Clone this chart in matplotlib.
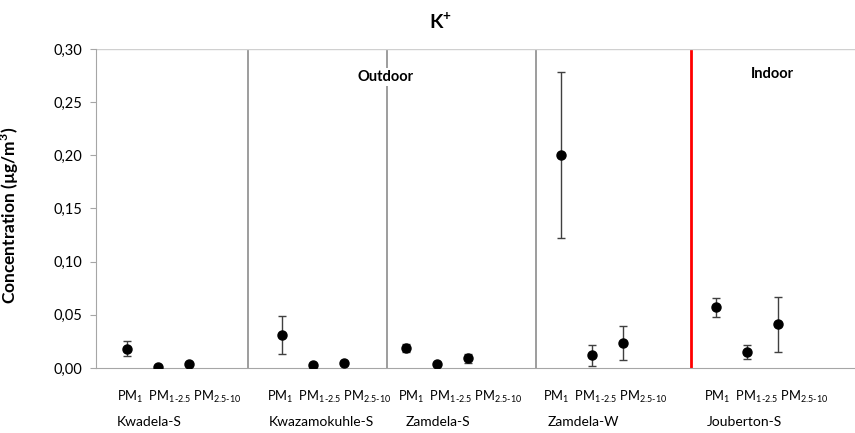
import matplotlib
matplotlib.use("Agg")
import matplotlib.pyplot as plt
import numpy as np

FONT = 'Lato'
plt.rcParams['font.family'] = [FONT, 'DejaVu Sans']
plt.rcParams['mathtext.fontset'] = 'custom'
plt.rcParams['mathtext.rm'] = FONT
plt.rcParams['mathtext.bf'] = FONT + ':bold'

sites = ['Kwadela-S', 'Kwazamokuhle-S', 'Zamdela-S', 'Zamdela-W', 'Jouberton-S']
pm_label = 'PM$_{1}$  PM$_{1‐2.5}$ PM$_{2.5‐10}$'
# category slot of each site's first point (Excel axis with blank categories)
site_start = [0, 5, 9, 14, 19]
# mean concentration and std (ug/m3), rows = sites, cols = PM1, PM1-2.5, PM2.5-10
means = np.array([
    [0.018, 0.001, 0.004],
    [0.031, 0.003, 0.005],
    [0.019, 0.004, 0.009],
    [0.200, 0.012, 0.024],
    [0.057, 0.015, 0.041],
])
errs = np.array([
    [0.007, 0.0, 0.0],
    [0.018, 0.0, 0.0],
    [0.004, 0.0, 0.004],
    [0.078, 0.010, 0.016],
    [0.009, 0.0065, 0.0255],
])

# layout (category units)
separators = [3.9, 8.4, 13.2]
indoor_sep = 18.2
pm_text_x = [-0.32, 4.52, 8.76, 13.44, 18.64]
site_text_x = [-0.32, 4.59, 8.98, 13.57, 18.71]

fig = plt.figure(figsize=(8.55, 4.33), dpi=100)
ax = fig.add_axes([0.1123, 0.150, 0.8877, 0.737])

grey = '#a6a6a6'
for s, start in enumerate(site_start):
    x = start + np.arange(3)
    ax.errorbar(x, means[s], yerr=errs[s], fmt='o', color='black', ms=6.5,
                ecolor='#404040', elinewidth=1.0, capsize=2.7, capthick=1.0, zorder=3)
    ax.text(pm_text_x[s], -0.027, pm_label, ha='left', va='center', fontsize=9.3, clip_on=False)
    ax.text(site_text_x[s], -0.0505, sites[s], ha='left', va='center', fontsize=10, clip_on=False)

for xs in separators:
    ax.axvline(xs, color='#8c8c8c', lw=1.2, zorder=1)
ax.axvline(indoor_sep, color='#ff0000', lw=2.0, zorder=1)
ax.axhline(0.30, color='#d0d0d0', lw=1.0, zorder=1)

ax.text(8.35, 0.274, 'Outdoor', ha='center', va='center', fontsize=10.5, fontweight='bold',
        bbox=dict(facecolor='white', edgecolor='none', pad=1.5), zorder=2)
ax.text(20.85, 0.276, 'Indoor', ha='center', va='center', fontsize=10.5, fontweight='bold', zorder=2)

ax.set_xlim(-1, 23.5)
ax.set_ylim(0, 0.30)
ticks = np.arange(0, 0.301, 0.05)
ax.set_yticks(ticks)
ax.set_yticklabels([f"{v:.2f}".replace('.', ',') for v in ticks], fontsize=10.5)
ax.set_xticks([])
ax.tick_params(axis='y', length=4, color=grey, pad=6)
for side in ['top', 'right']:
    ax.spines[side].set_visible(False)
ax.spines['left'].set_color(grey)
ax.spines['bottom'].set_color(grey)

ax.set_ylabel('Concentration (µg/m$^{\\mathbf{3}}$)', fontsize=12.5, fontweight='bold')
ax.yaxis.set_label_coords(-0.099, 0.48)
fig.text(440 / 855, 1 - 22 / 433, 'K$^{\\mathbf{+}}$', ha='center', va='center', fontsize=14, fontweight='bold')

fig.savefig('out.png', dpi=100)
